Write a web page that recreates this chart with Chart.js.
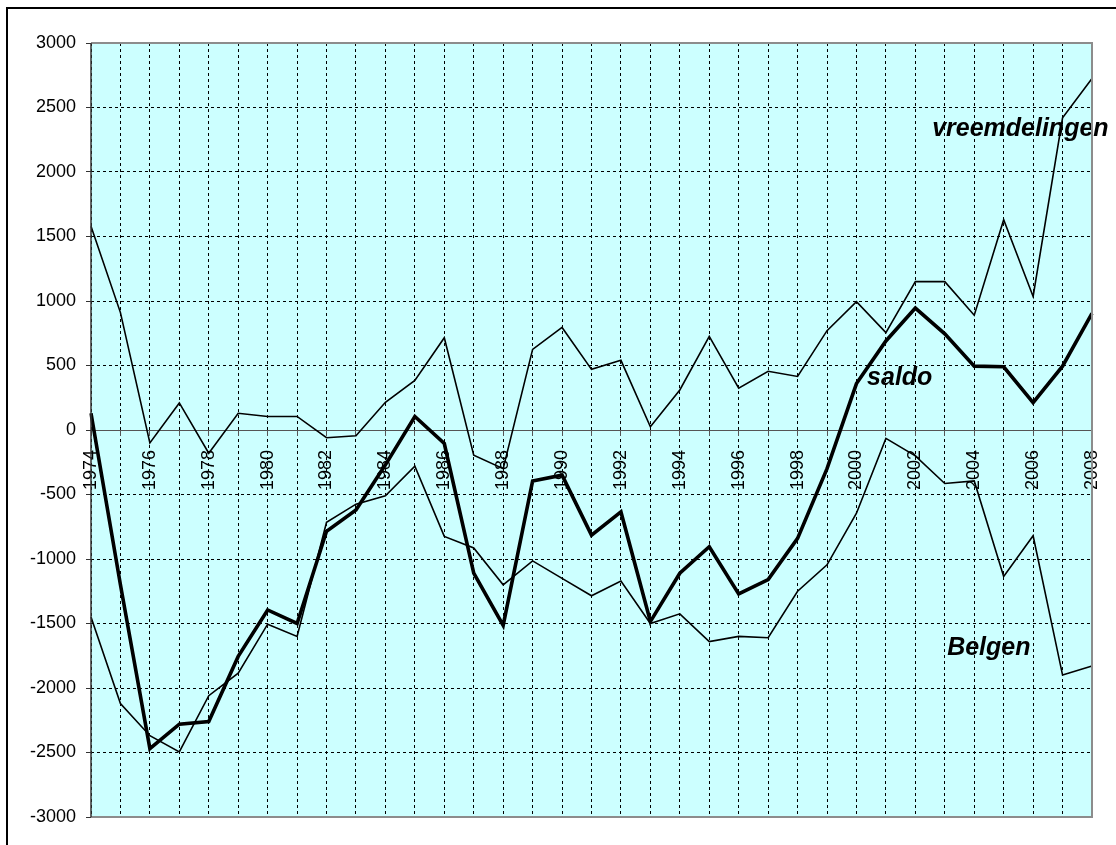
<html>
  <head>
    <meta charset="utf-8" />
    <title>Migratiesaldo</title>
    <style>
      body { margin: 0; background: #fff; }
      #wrap { position: relative; width: 1116px; height: 845px; overflow: hidden; }
      #frame { position: absolute; left: 6px; top: 7px; width: 1200px; height: 900px;
               border-left: 2px solid #000; border-top: 2px solid #000; }
      #canvasLine { position: absolute; left: 0; top: 0; }
    </style>
  </head>
  <body>
    <div id="wrap">
      <div id="frame"></div>
      <canvas id="canvasLine" width="1116" height="845"></canvas>
    </div>

    <script src="https://cdn.jsdelivr.net/npm/chart.js"></script>
    <script>
      // jaren op de x-as
      var years = [];
      for (var y = 1974; y <= 2008; y++) years.push(y);

      // waarden
      var vreemdelingen = [1580, 910, -100, 210, -180, 130, 105, 105, -60, -45,
        215, 385, 715, -195, -300, 625, 795, 470, 540, 25,
        310, 725, 325, 455, 415, 770, 995, 755, 1150, 1150,
        890, 1630, 1035, 2420, 2725];
      var belgen = [-1450, -2120, -2370, -2495, -2060, -1885, -1505, -1600, -715, -575,
        -510, -280, -825, -915, -1200, -1015, -1150, -1285, -1170, -1500,
        -1425, -1640, -1600, -1610, -1250, -1045, -645, -65, -200, -415,
        -395, -1135, -820, -1900, -1830];
      var saldo = [130, -1200, -2470, -2280, -2260, -1755, -1395, -1500, -785, -620,
        -270, 105, -105, -1110, -1515, -395, -350, -815, -635, -1485,
        -1110, -905, -1270, -1160, -840, -300, 360, 690, 945, 745,
        495, 490, 212, 495, 905];

      // tekstlabels bij de lijnen: [tekst, x-index, y-waarde]
      var seriesLabels = [
        ["vreemdelingen", 28.57, 2279],
        ["saldo", 26.36, 349],
        ["Belgen", 29.08, -1744]
      ];

      var font = "'Liberation Sans', Arial, sans-serif";

      var areaPlugin = {
        id: "area",
        beforeDraw: function (chart) {
          var a = chart.chartArea;
          var c = chart.ctx;
          c.save();
          c.fillStyle = "#CCFFFF";
          c.fillRect(a.left, a.top, a.right - a.left, a.bottom - a.top);
          c.restore();
        },
        afterDatasetsDraw: function (chart) {
          var c = chart.ctx;
          var xs = chart.scales.x, ys = chart.scales.y;
          c.save();
          c.fillStyle = "#000";
          c.font = "italic bold 25px " + font;
          c.textBaseline = "alphabetic";
          c.textAlign = "left";
          seriesLabels.forEach(function (l) {
            c.fillText(l[0], xs.getPixelForValue(l[1]), ys.getPixelForValue(l[2]));
          });
          c.restore();
        },
        afterDraw: function (chart) {
          var a = chart.chartArea;
          var c = chart.ctx;
          c.save();
          c.strokeStyle = "#8c8c8c";
          c.lineWidth = 2;
          c.beginPath();
          c.moveTo(a.left, a.top);
          c.lineTo(a.right, a.top);
          c.lineTo(a.right, a.bottom);
          c.lineTo(a.left, a.bottom);
          c.stroke();
          c.strokeStyle = "#333";
          c.lineWidth = 1.5;
          c.beginPath();
          c.moveTo(a.left, a.top);
          c.lineTo(a.left, a.bottom);
          c.stroke();
          c.restore();
        }
      };

      var ctx = document.getElementById("canvasLine").getContext("2d");
      var lineChart = new Chart(ctx, {
        type: "line",
        data: {
          labels: years,
          datasets: [
            { label: "vreemdelingen", data: vreemdelingen, borderColor: "#000", borderWidth: 1.6 },
            { label: "Belgen", data: belgen, borderColor: "#000", borderWidth: 1.6 },
            { label: "saldo", data: saldo, borderColor: "#000", borderWidth: 3.6 }
          ]
        },
        options: {
          responsive: false,
          animation: false,
          layout: { padding: { left: 0, top: 43, right: 24, bottom: 28 } },
          elements: { point: { radius: 0 }, line: { tension: 0 } },
          plugins: { legend: { display: false }, tooltip: { enabled: false } },
          scales: {
            x: {
              type: "category",
              position: { y: 0 },
              offset: false,
              afterFit: function (scale) {
                scale.height = 0;
                scale.paddingLeft = 0;
                scale.paddingRight = 0;
              },
              border: { display: true, color: "#555", width: 1, dash: [3, 3] },
              grid: {
                color: "#000",
                lineWidth: 1,
                tickLength: 5,
                tickColor: "#555",
                tickBorderDash: []
              },
              ticks: {
                autoSkip: false,
                maxRotation: 90,
                minRotation: 90,
                padding: 15,
                color: "#000",
                font: { family: font, size: 18 },
                callback: function (value, index) {
                  return index % 2 === 0 ? String(years[index]) : "";
                }
              }
            },
            y: {
              min: -3000,
              max: 3000,
              afterFit: function (scale) { scale.width = 91; },
              border: { display: false, dash: [3, 3] },
              grid: {
                color: "#000",
                lineWidth: 1,
                tickLength: 5,
                tickColor: "#333",
                tickBorderDash: []
              },
              ticks: {
                stepSize: 500,
                padding: 10,
                color: "#000",
                font: { family: font, size: 18 },
                callback: function (value) { return String(value); }
              }
            }
          }
        },
        plugins: [areaPlugin]
      });
    </script>
  </body>
</html>
